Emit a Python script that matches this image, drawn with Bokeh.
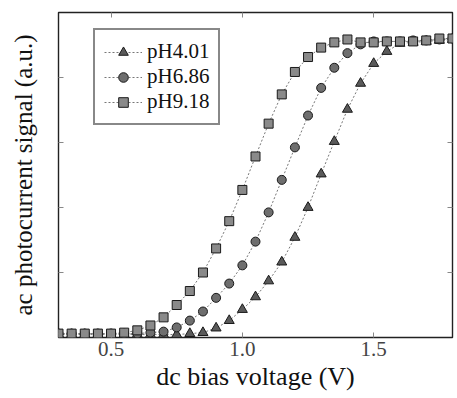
from bokeh.plotting import figure
from bokeh.models import Range1d, LinearAxis, FixedTicker, Legend, LegendItem
from bokeh.embed import file_html
from bokeh.resources import INLINE

volts = [0.30, 0.35, 0.40, 0.45, 0.50, 0.55, 0.60, 0.65, 0.70, 0.75,
         0.80, 0.85, 0.90, 0.95, 1.00, 1.05, 1.10, 1.15, 1.20, 1.25,
         1.30, 1.35, 1.40, 1.45, 1.50, 1.55, 1.60, 1.65, 1.70, 1.75, 1.80]

ph401 = [0.009, 0.009, 0.009, 0.009, 0.009, 0.009, 0.009, 0.009, 0.009, 0.009,
         0.012, 0.015, 0.029, 0.052, 0.086, 0.125, 0.174, 0.232, 0.308, 0.400,
         0.503, 0.603, 0.702, 0.782, 0.843, 0.880, 0.905, 0.908, 0.911, 0.914, 0.917]

ph686 = [0.012, 0.012, 0.012, 0.012, 0.012, 0.012, 0.012, 0.015, 0.018, 0.031,
         0.052, 0.080, 0.122, 0.166, 0.222, 0.295, 0.385, 0.485, 0.585, 0.683,
         0.768, 0.830, 0.875, 0.902, 0.911, 0.911, 0.911, 0.914, 0.914, 0.917, 0.920]

ph918 = [0.012, 0.012, 0.012, 0.012, 0.012, 0.015, 0.022, 0.037, 0.062, 0.100,
         0.143, 0.200, 0.274, 0.358, 0.454, 0.557, 0.658, 0.748, 0.817, 0.863,
         0.892, 0.908, 0.917, 0.908, 0.908, 0.911, 0.911, 0.911, 0.914, 0.920, 0.920]

series_labels = ["pH4.01", "pH6.86", "pH9.18"]
x_ticks = [0.5, 1.0, 1.5]
x_tick_labels = ["0.5", "1.0", "1.5"]
y_ticks = [0.2, 0.4, 0.6, 0.8]

SERIF = "Liberation Serif"

FRAME_H = 325
p = figure(width=457, height=398, output_backend="svg", toolbar_location=None,
           x_range=Range1d(0.3, 1.8), y_range=Range1d(0, 1),
           min_border_left=58, min_border_right=5, min_border_top=12, min_border_bottom=61,
           x_axis_location=None, y_axis_location=None)
p.background_fill_color = "white"
p.border_fill_color = "white"
p.grid.visible = False
p.outline_line_color = "#222222"
p.outline_line_width = 1.4

def style_axis(ax, ticks, labels):
    ax.ticker = FixedTicker(ticks=ticks, minor_ticks=[])
    ax.major_tick_in = 5
    ax.major_tick_out = 0
    ax.minor_tick_in = 0
    ax.minor_tick_out = 0
    ax.major_tick_line_color = "#888888"
    ax.axis_line_color = None
    ax.major_label_overrides = {t: lab for t, lab in zip(ticks, labels)}

xb = LinearAxis(axis_label="dc bias voltage (V)")
style_axis(xb, x_ticks, x_tick_labels)
xb.major_label_text_font = SERIF
xb.major_label_text_font_size = "21px"
xb.major_label_text_color = "#444444"
xb.major_label_standoff = 4
xb.axis_label_text_font = SERIF
xb.axis_label_text_font_size = "26px"
xb.axis_label_text_font_style = "normal"
xb.axis_label_text_color = "#111111"
xb.axis_label_standoff = 3
p.add_layout(xb, "below")

xt = LinearAxis()
style_axis(xt, x_ticks, ["" for _ in x_ticks])
xt.major_label_standoff = 0
p.add_layout(xt, "above")

yl = LinearAxis(axis_label="ac photocurrent signal (a.u.)")
style_axis(yl, y_ticks, ["" for _ in y_ticks])
yl.major_label_standoff = 0
yl.axis_label_text_font = SERIF
yl.axis_label_text_font_size = "25px"
yl.axis_label_text_font_style = "normal"
yl.axis_label_text_color = "#111111"
yl.axis_label_standoff = 22
p.add_layout(yl, "left")

yr = LinearAxis()
style_axis(yr, y_ticks, ["" for _ in y_ticks])
yr.major_label_standoff = 0
p.add_layout(yr, "right")

line_kw = dict(line_color="#777777", line_width=1, line_dash="2 2")
mk_kw = dict(line_color="#1a1a1a", line_width=1)

l1 = p.line(volts, ph401, **line_kw)
s1 = p.scatter(volts, ph401, marker="triangle", size=10, fill_color="#5a5a5a", **mk_kw)
l2 = p.line(volts, ph686, **line_kw)
s2 = p.scatter(volts, ph686, marker="circle", size=9, fill_color="#6e6e6e", **mk_kw)
l3 = p.line(volts, ph918, **line_kw)
s3 = p.scatter(volts, ph918, marker="square", size=9, fill_color="#8a8a8a", **mk_kw)

items = [LegendItem(label=series_labels[0], renderers=[l1, s1]),
         LegendItem(label=series_labels[1], renderers=[l2, s2]),
         LegendItem(label=series_labels[2], renderers=[l3, s3])]

ROW = 24
PAD = 9
LEG_H = 3 * ROW + 2 * PAD
legend = Legend(items=items, location=(35, FRAME_H - 23 - LEG_H))
legend.margin = 0
legend.label_text_font = SERIF
legend.label_text_font_size = "21px"
legend.label_text_color = "#111111"
legend.glyph_width = 38
legend.glyph_height = ROW
legend.label_height = ROW
legend.spacing = 0
legend.label_standoff = 5
legend.padding = PAD
legend.border_line_color = "#111111"
legend.border_line_width = 2
legend.background_fill_color = "white"
legend.background_fill_alpha = 1
p.add_layout(legend, "center")

open("out.html", "w").write(file_html(p, INLINE))
